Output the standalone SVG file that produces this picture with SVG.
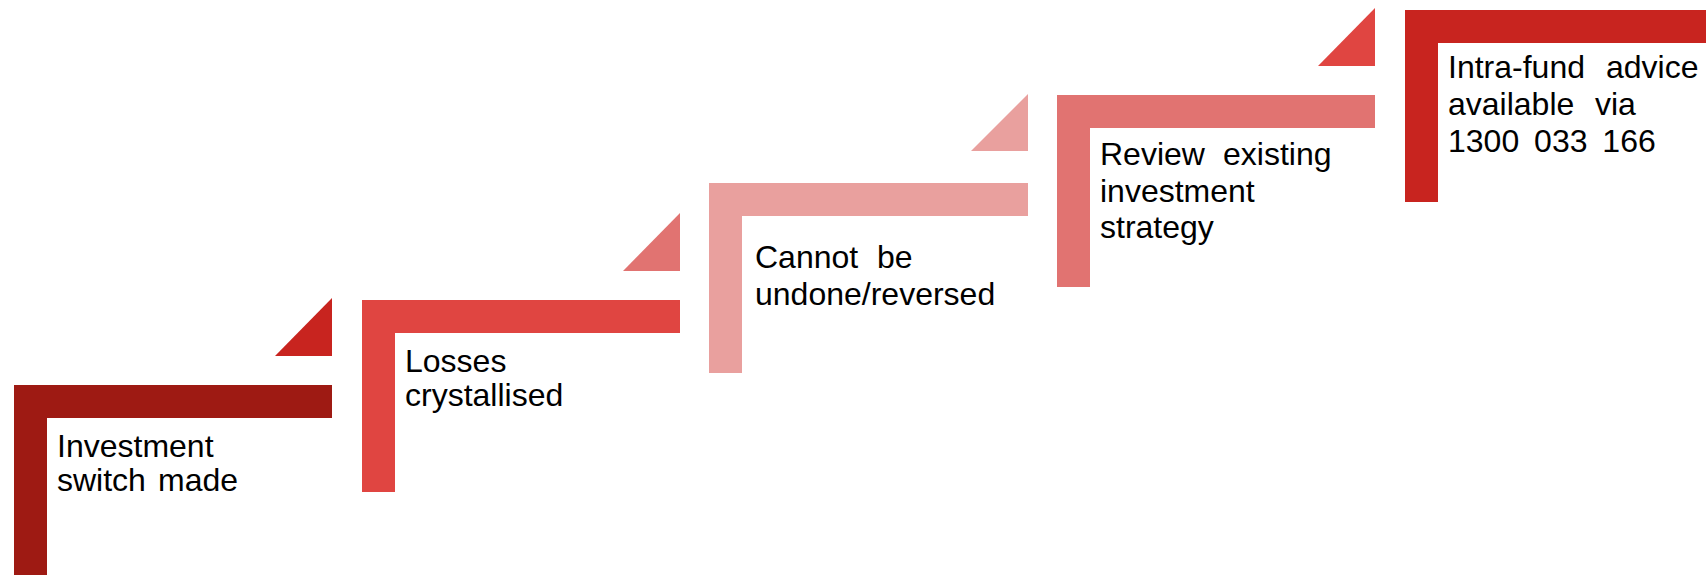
<svg xmlns="http://www.w3.org/2000/svg" width="1706" height="575" viewBox="0 0 1706 575">
<style>
text{font-family:"Liberation Sans",Arial,sans-serif;font-size:32px;fill:#000}
.c1{fill:#9E1A13}.c2{fill:#C8241F}.c3{fill:#E04541}.c4{fill:#E17371}.c5{fill:#E9A09E}
</style>
<rect width="1706" height="575" fill="#fff"/>
<g id="step1">
<path class="c1" d="M14,385H332V418H47V575H14Z"/>
<path class="c2" d="M275,356H332V298Z"/>
<text x="57" y="457">Investment</text>
<text x="57" y="491">switch <tspan x="158">made</tspan></text>
</g>
<g id="step2">
<path class="c3" d="M362,300H680V333H395V492H362Z"/>
<path class="c4" d="M623,271H680V213Z"/>
<text x="405" y="372">Losses</text>
<text x="405" y="406">crystallised</text>
</g>
<g id="step3">
<path class="c5" d="M709,183H1028V216H742V373H709Z"/>
<path class="c5" d="M971,151H1028V94Z"/>
<text x="755" y="268">Cannot <tspan x="877">be</tspan></text>
<text x="755" y="305">undone/reversed</text>
</g>
<g id="step4">
<path class="c4" d="M1057,95H1375V128H1090V287H1057Z"/>
<path class="c3" d="M1318,66H1375V8Z"/>
<text x="1100" y="165">Review <tspan x="1223">existing</tspan></text>
<text x="1100" y="202">investment</text>
<text x="1100" y="238">strategy</text>
</g>
<g id="step5">
<path class="c2" d="M1405,10H1706V43H1438V202H1405Z"/>
<text x="1448" y="78">Intra-fund <tspan x="1606">advice</tspan></text>
<text x="1448" y="115">available <tspan x="1595">via</tspan></text>
<text x="1448" y="152" word-spacing="6">1300 033 166</text>
</g>
<g id="connectors"/>
</svg>
